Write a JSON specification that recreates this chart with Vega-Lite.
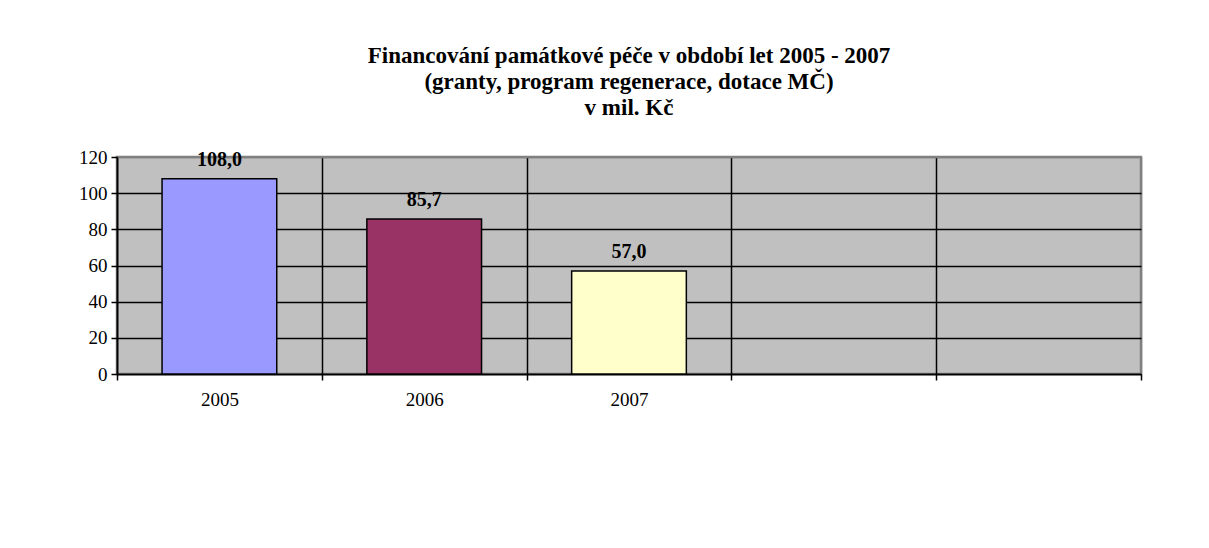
{
  "$schema": "https://vega.github.io/schema/vega-lite/v6.json",
  "width": 1024,
  "height": 217,
  "autosize": "none",
  "padding": {"left": 117, "top": 157, "right": 68, "bottom": 174},
  "background": "white",
  "title": {
    "text": ["Financování památkové péče v období let 2005 - 2007", "(granty, program regenerace, dotace MČ)", "v mil. Kč"],
    "font": "Liberation Serif",
    "fontSize": 23,
    "fontWeight": "bold",
    "color": "black",
    "lineHeight": 26,
    "anchor": "middle",
    "offset": 28
  },
  "config": {
    "locale": {"number": {"decimal": ",", "thousands": " ", "grouping": [3], "currency": ["", " Kč"]}},
    "view": {"fill": "#C0C0C0", "stroke": "#808080", "strokeWidth": 2.5},
    "axis": {"labelFont": "Liberation Serif", "labelColor": "black", "titleFont": "Liberation Serif"}
  },
  "data": {
    "values": [
      {"rok": "2005", "hodnota": 108.0},
      {"rok": "2006", "hodnota": 85.7},
      {"rok": "2007", "hodnota": 57.0}
    ]
  },
  "encoding": {
    "x": {
      "field": "rok",
      "type": "nominal",
      "sort": null,
      "scale": {"domain": ["2005", "2006", "2007", " ", "  "], "paddingInner": 0, "paddingOuter": 0},
      "axis": {
        "title": null,
        "labelAngle": 0,
        "labelFontSize": 19,
        "labelPadding": 10,
        "tickBand": "extent",
        "grid": true,
        "gridColor": {"condition": {"test": "datum.index >= 1", "value": "#808080"}, "value": "black"},
        "gridWidth": 1.5,
        "gridOpacity": 1,
        "domainColor": "black",
        "domainWidth": 1.5,
        "tickColor": "black",
        "tickWidth": 1.5,
        "tickSize": 6
      }
    },
    "y": {
      "field": "hodnota",
      "type": "quantitative",
      "scale": {"domain": [0, 120], "nice": false},
      "axis": {
        "title": null,
        "values": [0, 20, 40, 60, 80, 100, 120],
        "labelFontSize": 19,
        "labelPadding": 4,
        "grid": true,
        "gridColor": {"condition": {"test": "datum.value >= 120", "value": "#808080"}, "value": "black"},
        "gridWidth": 1.5,
        "gridOpacity": 1,
        "domainColor": "black",
        "domainWidth": 1.5,
        "tickColor": "black",
        "tickWidth": 1.5,
        "tickSize": 6
      }
    }
  },
  "layer": [
    {
      "mark": {"type": "bar", "width": {"band": 0.56}, "stroke": "black", "strokeWidth": 1.5},
      "encoding": {
        "color": {
          "field": "rok",
          "type": "nominal",
          "scale": {"domain": ["2005", "2006", "2007"], "range": ["#9999FF", "#993366", "#FFFFCC"]},
          "legend": null
        }
      }
    },
    {
      "mark": {"type": "text", "font": "Liberation Serif", "fontSize": 20, "fontWeight": "bold", "color": "black", "baseline": "middle", "dy": -19},
      "encoding": {
        "text": {"field": "hodnota", "type": "quantitative", "format": ".1f"}
      }
    }
  ]
}
